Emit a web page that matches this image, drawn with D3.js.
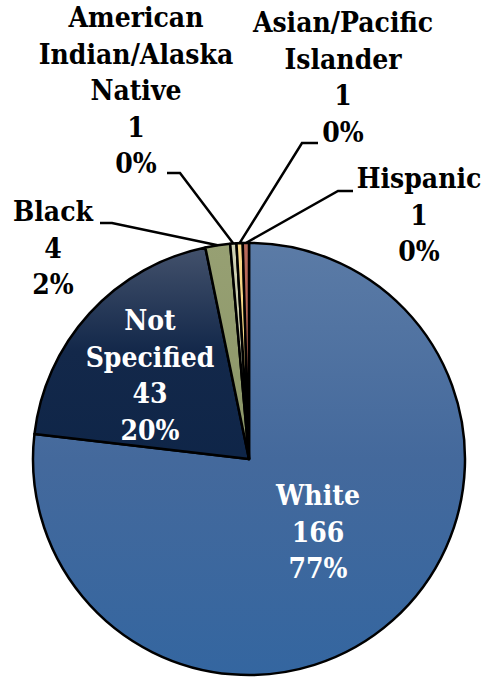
<!DOCTYPE html>
<html><head><meta charset="utf-8">
<script src="https://cdn.jsdelivr.net/npm/d3@7"></script>
<style>html,body{margin:0;padding:0;background:#fff}svg{display:block}
text{font-family:"DejaVu Serif Condensed","DejaVu Serif",serif;font-stretch:condensed;font-weight:bold}</style>
</head><body>
<svg id="c" width="488" height="678"></svg>
<script>
const categories = ["White","Not Specified","Black","American Indian/Alaska Native","Asian/Pacific Islander","Hispanic"];
const values = [166, 43, 4, 1, 1, 1];
const percentLabels = ["77%","20%","2%","0%","0%","0%"];
const labelLines = [["White"],["Not","Specified"],["Black"],["American","Indian/Alaska","Native"],["Asian/Pacific","Islander"],["Hispanic"]];

const W = 488, H = 678;
const cx = 249, cy = 459, R = 216;
const svg = d3.select("#c");
const defs = svg.append("defs");
function grad(id, stops){
  const g = defs.append("linearGradient").attr("id", id).attr("gradientUnits","userSpaceOnUse")
    .attr("x1",0).attr("y1",-R).attr("x2",0).attr("y2",R);
  stops.forEach(s=>g.append("stop").attr("offset",s[0]).attr("stop-color",s[1]));
}
grad("gWhite", [[0,"#5b7ba6"],[0.5,"#44699c"],[1,"#3466a0"]]);
grad("gNS", [[0,"#45536d"],[0.25,"#13284a"],[1,"#062044"]]);
grad("gBlack", [[0,"#97a073"],[1,"#7f8c5c"]]);
grad("gAI", [[0,"#cfd1b3"],[1,"#b8bd98"]]);
grad("gAs", [[0,"#f7d98a"],[1,"#e8c46a"]]);
grad("gHi", [[0,"#b86a5a"],[1,"#a55848"]]);
const fills = ["url(#gWhite)","url(#gNS)","url(#gBlack)","url(#gAI)","url(#gAs)","url(#gHi)"];

const pie = d3.pie().sort(null).value(d=>d)(values);
const arc = d3.arc().innerRadius(0).outerRadius(R);
const g = svg.append("g").attr("transform",`translate(${cx},${cy})`);
g.selectAll("path.slice").data(pie).join("path").attr("class","slice")
  .attr("d", arc).attr("fill",(d,i)=>fills[i])
  .attr("stroke","#000").attr("stroke-width",2.5).attr("stroke-linejoin","round");

const fs = 28, lh = 36.5;
const layout = [
  [318, 505, "#fff", null],
  [150, 330, "#fff", null],
  [53, 221, "#000", [100,223,112,223]],
  [136, 27, "#000", [167,173,180,173]],
  [343, 32, "#000", [318,143,302,143]],
  [419, 188, "#000", [353,191,338,191]]
];
const outerPt = d => { const a=(d.startAngle+d.endAngle)/2; return [cx+R*Math.sin(a), cy-R*Math.cos(a)]; };
pie.forEach((d,i)=>{
  const [x,y0,col,ld] = layout[i];
  const lines = labelLines[i].concat([String(values[i]), percentLabels[i]]);
  const t = svg.append("text").attr("x",x).attr("y",y0).attr("text-anchor","middle")
    .attr("font-size",fs).attr("fill",col);
  lines.forEach((s,k)=>t.append("tspan").attr("x",x).attr("y",y0+k*lh).text(s));
  if(ld){
    const p = outerPt(d);
    svg.append("polyline").attr("points",[[ld[0],ld[1]],[ld[2],ld[3]],p].map(q=>q.join(",")).join(" "))
      .attr("fill","none").attr("stroke","#000").attr("stroke-width",2.5);
  }
});
</script>
</body></html>
